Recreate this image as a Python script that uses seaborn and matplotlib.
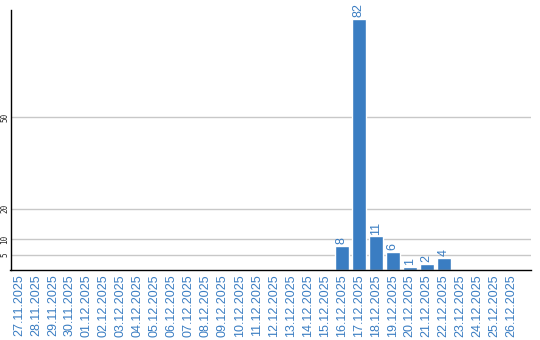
import matplotlib
matplotlib.use("Agg")
import matplotlib.pyplot as plt
import seaborn as sns
import pandas as pd

dates = ["27.11.2025","28.11.2025","29.11.2025","30.11.2025","01.12.2025","02.12.2025",
         "03.12.2025","04.12.2025","05.12.2025","06.12.2025","07.12.2025","08.12.2025",
         "09.12.2025","10.12.2025","11.12.2025","12.12.2025","13.12.2025","14.12.2025",
         "15.12.2025","16.12.2025","17.12.2025","18.12.2025","19.12.2025","20.12.2025",
         "21.12.2025","22.12.2025","23.12.2025","24.12.2025","25.12.2025","26.12.2025"]
counts = [0,0,0,0,0,0,0,0,0,0,0,0,0,0,0,0,0,0,0,8,82,11,6,1,2,4,0,0,0,0]
yticks = [5, 10, 20, 50]

df = pd.DataFrame({"date": dates, "count": counts})
blue = "#3a7dc2"

sns.set_style("white")
fig = plt.figure(figsize=(5.4, 3.4), dpi=100)
ax = fig.add_axes([10.5/540, 70/340, 520.5/540, 260/340])
sns.barplot(data=df, x="date", y="count", color=blue, saturation=1, width=0.82, ax=ax)

ax.set_xlim(-0.5, 30.15)
ax.set_ylim(0, 85)
ax.set_yticks(yticks)
ax.set_yticklabels([str(v) for v in yticks], rotation=90, va="center", fontsize=5.5,
                   family="DejaVu Sans Mono")
for v in yticks:
    ax.axhline(v, color="#c8c8c8", lw=1, zorder=0)
ax.tick_params(axis="y", length=0, pad=1)
ax.tick_params(axis="x", length=0, pad=3)
ax.set_xticks(range(len(dates)))
ax.set_xticklabels(dates, rotation=90, fontsize=9, color=blue, family="Liberation Sans")
ax.set_xlabel("")
ax.set_ylabel("")
for s in ["top", "right"]:
    ax.spines[s].set_visible(False)
for s in ["left", "bottom"]:
    ax.spines[s].set_color("black")
    ax.spines[s].set_linewidth(1)

for i, c in enumerate(counts):
    if c > 0:
        ax.text(i, c + 0.6, str(c), rotation=90, ha="center", va="bottom", fontsize=9,
                color=blue, family="Liberation Sans")

fig.savefig("out.png", dpi=100)
